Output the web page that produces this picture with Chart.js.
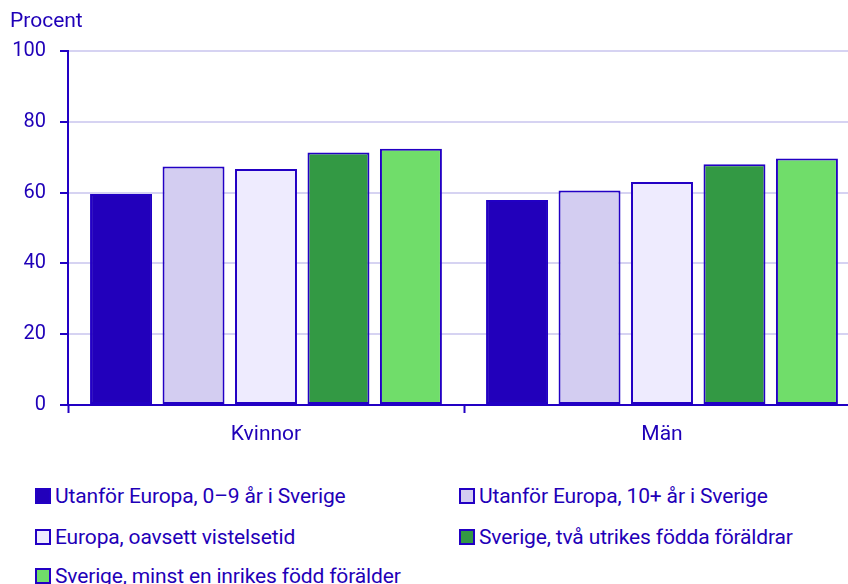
<!DOCTYPE html>
<html lang="sv">
<head>
    <meta charset="UTF-8">
    <title>Procent efter kön och bakgrund</title>
    <script src="https://cdn.jsdelivr.net/npm/chart.js"></script>
    <style>
        body {
            margin: 0;
            width: 848px;
            height: 584px;
            overflow: hidden;
            background: white;
            font-family: Roboto, sans-serif;
            color: #1f00b8;
            position: relative;
        }
        #chart {
            position: absolute;
            left: 0;
            top: 0;
        }
        .legend-item {
            position: absolute;
            display: flex;
            align-items: center;
            font-size: 21px;
            line-height: 24px;
            letter-spacing: -0.15px;
            white-space: nowrap;
        }
        .swatch {
            width: 12px;
            height: 12px;
            border: 2px solid #2200c4;
            margin-right: 4px;
        }
    </style>
</head>
<body>
    <canvas id="chart" width="860" height="465"></canvas>
    <div id="legend"></div>

    <script>
        const TEXT = "#1f00b8";
        const categories = ["Kvinnor", "Män"];
        const seriesNames = [
            "Utanför Europa, 0–9 år i Sverige",
            "Utanför Europa, 10+ år i Sverige",
            "Europa, oavsett vistelsetid",
            "Sverige, två utrikes födda föräldrar",
            "Sverige, minst en inrikes född förälder"
        ];
        const utanfor09 = [59.6, 57.9];
        const utanfor10 = [67.4, 60.6];
        const europa = [66.7, 63.0];
        const sverigeTva = [71.3, 68.0];
        const sverigeMinst = [72.4, 69.6];
        const seriesColors = ["#2200bb", "#d3cdf1", "#eeebfe", "#339944", "#70dd6a"];

        const values = [utanfor09, utanfor10, europa, sverigeTva, sverigeMinst];

        // "Procent" above the y axis
        const unitLabel = {
            id: "unitLabel",
            afterDraw(chart) {
                const c = chart.ctx;
                c.save();
                c.font = "21px Roboto";
                c.fillStyle = TEXT;
                c.textBaseline = "middle";
                c.fillText("Procent", 10, 22);
                c.restore();
            }
        };

        new Chart(document.getElementById("chart"), {
            type: "bar",
            data: {
                labels: categories,
                datasets: values.map((v, i) => ({
                    label: seriesNames[i],
                    data: v,
                    backgroundColor: seriesColors[i],
                    borderColor: "#2200c4",
                    borderWidth: 2,
                    borderSkipped: false,
                    categoryPercentage: 0.915,
                    barPercentage: 0.855
                }))
            },
            options: {
                responsive: false,
                animation: false,
                layout: { padding: { top: 51, left: 0, right: 0, bottom: 0 } },
                plugins: {
                    legend: { display: false },
                    tooltip: { enabled: false }
                },
                scales: {
                    x: {
                        grid: {
                            drawOnChartArea: false,
                            offset: true,
                            tickLength: 8,
                            tickColor: "#2200c4",
                            tickWidth: 2
                        },
                        border: { color: "#2200c4", width: 2 },
                        ticks: {
                            color: TEXT,
                            font: { family: "Roboto", size: 21 },
                            padding: 9
                        },
                        afterFit(scale) { scale.height = 60; }
                    },
                    y: {
                        min: 0,
                        max: 100,
                        ticks: {
                            stepSize: 20,
                            color: TEXT,
                            font: { family: "Roboto", size: 20 },
                            padding: 14
                        },
                        grid: {
                            color: "#d6d3f2",
                            lineWidth: 2,
                            tickLength: 8,
                            tickColor: "#2200c4",
                            tickWidth: 2
                        },
                        border: { color: "#2200c4", width: 2 },
                        afterFit(scale) { scale.width = 68; }
                    }
                }
            },
            plugins: [unitLabel]
        });

        // legend in two columns, like the original
        const legendPos = [[35, 484], [459, 484], [35, 525], [459, 525], [35, 564]];
        const legend = document.getElementById("legend");
        seriesNames.forEach((name, i) => {
            const item = document.createElement("div");
            item.className = "legend-item";
            item.style.left = legendPos[i][0] + "px";
            item.style.top = legendPos[i][1] + "px";
            const sw = document.createElement("span");
            sw.className = "swatch";
            sw.style.background = seriesColors[i];
            item.appendChild(sw);
            item.appendChild(document.createTextNode(name));
            legend.appendChild(item);
        });
    </script>
</body>
</html>
